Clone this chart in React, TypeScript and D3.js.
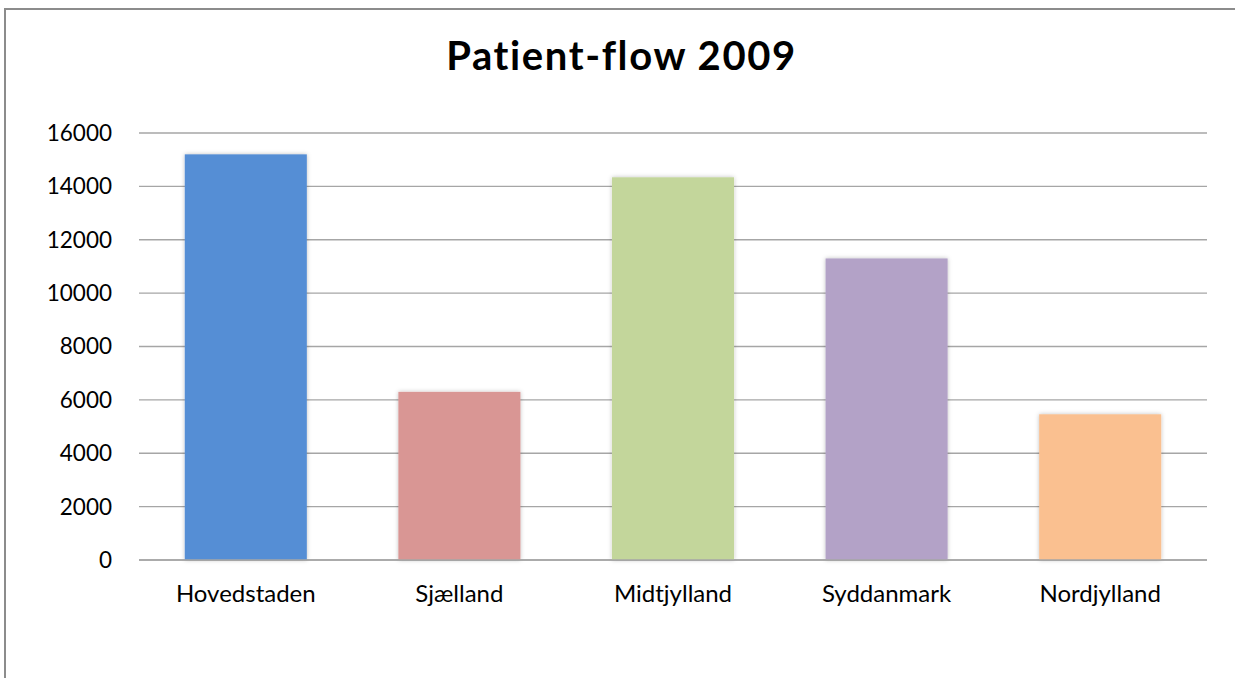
import React from "react";
import * as d3 from "d3";

const categories = ["Hovedstaden", "Sjælland", "Midtjylland", "Syddanmark", "Nordjylland"];
const values = [15200, 6300, 14340, 11300, 5460];
const colors = ["#558ED5", "#D99694", "#C3D69B", "#B3A2C7", "#FAC090"];
const yTicks = [0, 2000, 4000, 6000, 8000, 10000, 12000, 14000, 16000];
const title = "Patient-flow 2009";

const W = 1235;
const H = 678;
const FONT = "Lato, 'Open Sans', sans-serif";

export default function App() {
  const x = d3
    .scaleBand<string>()
    .domain(categories)
    .range([139, 1207])
    .paddingInner(0.4286)
    .paddingOuter(0.2143);
  const y = d3.scaleLinear().domain([0, 16000]).range([560, 133]);

  return (
    <div style={{ position: "fixed", left: 0, top: 0, width: W, height: H, background: "#fff" }}>
      <svg width={W} height={H} style={{ display: "block", fontVariantLigatures: "none" }}>
        <defs>
          <filter id="sh" x="-10%" y="-5%" width="120%" height="110%">
            <feDropShadow dx="0" dy="0" stdDeviation="2" floodColor="#000" floodOpacity="0.25" />
          </filter>
        </defs>
        <rect x={0} y={0} width={W} height={H} fill="#fff" />
        <rect x={5} y={9} width={1400} height={900} fill="none" stroke="#8c8c8c" strokeWidth={2} />
        <text
          x={621.5}
          y={70}
          textAnchor="middle"
          fontFamily={FONT}
          fontWeight={700}
          fontSize={40}
          letterSpacing={1.6}
          fill="#000"
        >
          {title}
        </text>
        {yTicks.map((t) => (
          <g key={t}>
            <line x1={139} x2={1207} y1={y(t)} y2={y(t)} stroke="#a6a6a6" strokeWidth={1.3} />
            <text
              x={112}
              y={y(t)}
              dy="0.35em"
              textAnchor="end"
              fontFamily={FONT}
              fontSize={22.5}
              fill="#000"
            >
              {t}
            </text>
          </g>
        ))}
        {categories.map((c, i) => (
          <g key={c}>
            <rect
              x={x(c)}
              y={y(values[i])}
              width={x.bandwidth()}
              height={y(0) - y(values[i])}
              fill={colors[i]}
              filter="url(#sh)"
            />
            <text
              x={(x(c) as number) + x.bandwidth() / 2}
              y={602}
              textAnchor="middle"
              fontFamily={FONT}
              fontSize={24}
              fill="#000"
            >
              {c}
            </text>
          </g>
        ))}
        <line x1={139} x2={1207} y1={y(0)} y2={y(0)} stroke="#a6a6a6" strokeWidth={1.3} />
      </svg>
    </div>
  );
}
